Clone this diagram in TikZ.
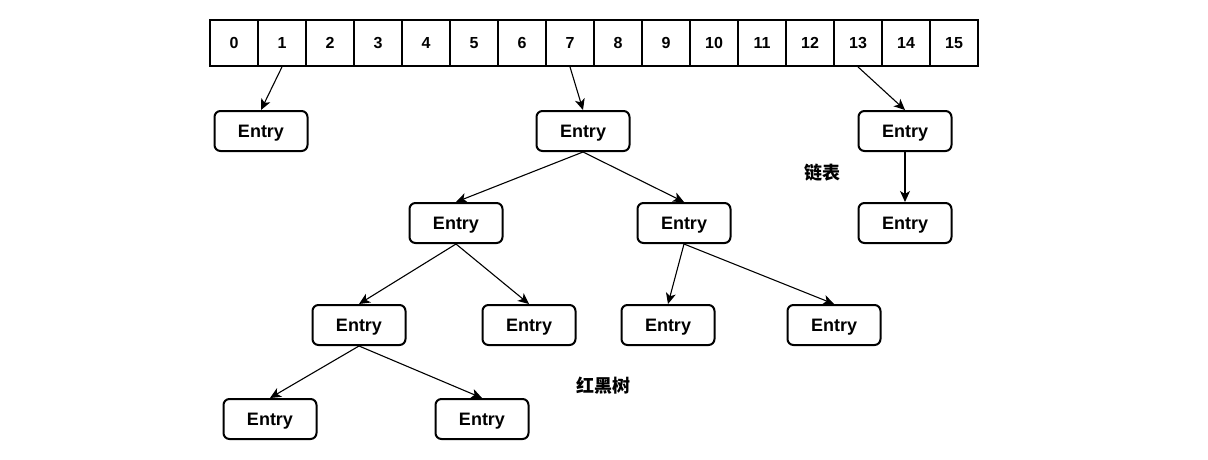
\documentclass[tikz,border=0pt]{standalone}
\usepackage{fontspec}
\setmainfont{Liberation Sans}
\newfontfamily\cjk{Noto Sans CJK SC}
\usetikzlibrary{arrows.meta}
\begin{document}
\begin{tikzpicture}[x=1pt,y=-1pt,
  cell/.style={draw,line width=1.8pt,minimum width=48pt,minimum height=46pt,inner sep=0pt,font=\fontsize{16}{18}\selectfont\bfseries},
  entry/.style={draw,line width=2pt,rounded corners=6pt,minimum width=93pt,minimum height=40pt,inner sep=0pt,text depth=0pt,font=\fontsize{18}{20}\selectfont\bfseries},
  arr/.style={line width=1.1pt,-{Stealth[length=11pt,width=10pt,inset=3pt]}},
  lbl/.style={font=\fontsize{18}{20}\cjk\bfseries}]
\useasboundingbox (0,0) rectangle (1208,460);
\foreach \i in {0,...,15} {
  \node[cell] (c\i) at ({234+48*\i},43) {\i};
}
\node[entry] (e1) at (261,131) {Entry};
\node[entry] (root) at (583,131) {Entry};
\node[entry] (e13) at (905,131) {Entry};
\node[entry] (e13b) at (905,223) {Entry};
\node[entry] (l) at (456,223) {Entry};
\node[entry] (r) at (684,223) {Entry};
\node[entry] (ll) at (359,325) {Entry};
\node[entry] (lr) at (529,325) {Entry};
\node[entry] (rl) at (668,325) {Entry};
\node[entry] (rr) at (834,325) {Entry};
\node[entry] (lll) at (270,419) {Entry};
\node[entry] (llr) at (482,419) {Entry};
\node[lbl] (t1) at (822,173) {链表};
\node[lbl] (t2) at (603,386) {红黑树};
\draw[arr] (c1.south) -- (e1.north);
\draw[arr] (c7.south) -- (root.north);
\draw[arr] (c13.south) -- (e13.north);
\draw[arr] (e13.south) -- (e13b.north);
\draw[arr] (root.south) -- (l.north);
\draw[arr] (root.south) -- (r.north);
\draw[arr] (l.south) -- (ll.north);
\draw[arr] (l.south) -- (lr.north);
\draw[arr] (r.south) -- (rl.north);
\draw[arr] (r.south) -- (rr.north);
\draw[arr] (ll.south) -- (lll.north);
\draw[arr] (ll.south) -- (llr.north);
\end{tikzpicture}
\end{document}
